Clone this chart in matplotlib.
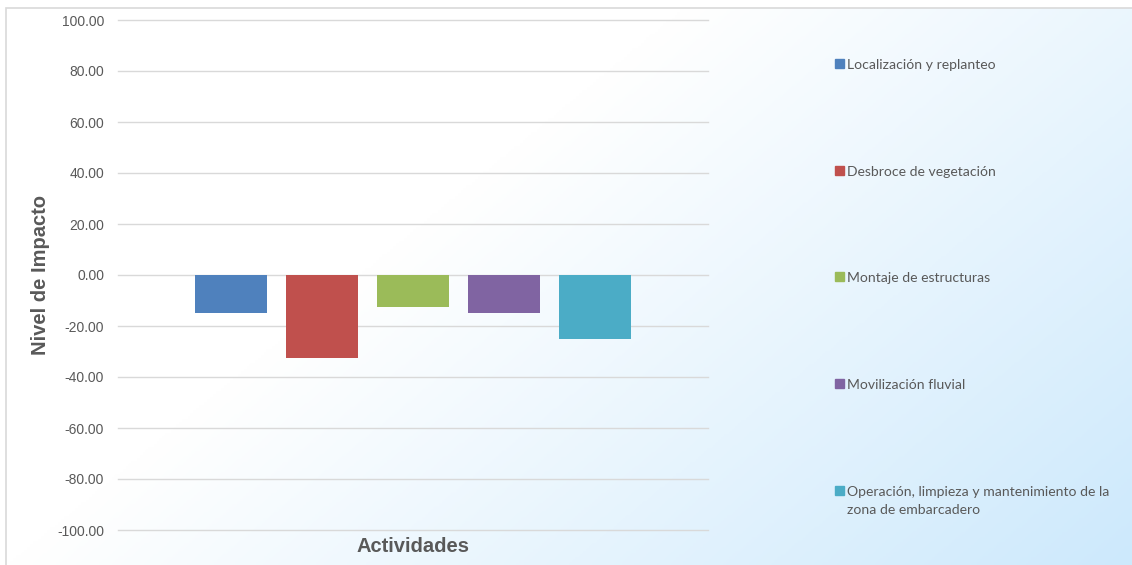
import numpy as np
import matplotlib.pyplot as plt
from matplotlib.colors import LinearSegmentedColormap
from matplotlib.patches import Rectangle

actividades = [
    "Localización y replanteo",
    "Desbroce de vegetación",
    "Montaje de estructuras",
    "Movilización fluvial",
    "Operación, limpieza y mantenimiento de la\nzona de embarcadero",
]
impacto = [-15.0, -32.7, -12.7, -15.0, -25.2]
colores = ["#4f81bd", "#c0504d", "#9bbb59", "#8064a2", "#4bacc6"]
yticks = [100, 80, 60, 40, 20, 0, -20, -40, -60, -80, -100]

W, H = 1132, 565
fig = plt.figure(figsize=(W / 100, H / 100), dpi=100)
fig.patch.set_facecolor("white")

# fondo degradado del area del grafico (blanco arriba-izquierda, celeste abajo-derecha)
bg = fig.add_axes([6 / W, 0, 1 - 6 / W, 1 - 8 / H], zorder=-10)
gx, gy = np.meshgrid(np.linspace(0, 1, 400), np.linspace(0, 1, 200))
t = np.clip((0.75 * gx + 0.45 * gy - 0.45) / 0.75, 0, 1)
cmap = LinearSegmentedColormap.from_list("fondo", ["#ffffff", "#cde9fc"])
bg.imshow(t, cmap=cmap, aspect="auto", extent=[0, 1, 1, 0], vmin=0, vmax=1)
bg.set_axis_off()
fig.patches.append(Rectangle((6 / W, -0.01), 1.1, 1 - 8 / H + 0.01,
                             transform=fig.transFigure, fill=False,
                             edgecolor="#d9d9d9", linewidth=1.2, zorder=-5))

ax = fig.add_axes([118 / W, 1 - 530 / H, 590 / W, 510 / H])
ax.patch.set_alpha(0)
x = np.arange(len(impacto))
ax.bar(x, impacto, width=0.79, color=colores, zorder=3)
ax.set_xlim(2 - 3.24, 2 + 3.24)
ax.set_ylim(-100, 100)
ax.set_yticks(yticks)
ax.set_yticklabels([f"{v:.2f}" for v in yticks], fontsize=10, color="#595959",
                   family="Liberation Sans")
ax.set_xticks([])
ax.tick_params(axis="y", length=0, pad=10)
ax.grid(axis="y", color="#d9d9d9", linewidth=1, zorder=0)
for line in ax.get_ygridlines():
    line.set_clip_on(False)
for s in ax.spines.values():
    s.set_visible(False)

ax.set_ylabel("Nivel de Impacto", fontsize=14.5, fontweight="bold", color="#595959",
              family="Liberation Sans")
ax.yaxis.set_label_coords(-68 / 590, 0.5)
fig.text(413 / W, 1 - 546 / H, "Actividades", fontsize=14.5, fontweight="bold",
         color="#595959", family="Liberation Sans", ha="center", va="center")

# leyenda a la derecha
ley_y = [64, 171, 277, 384, 491]
for nombre, col, yy in zip(actividades, colores, ley_y):
    fig.patches.append(Rectangle((835 / W, 1 - (yy + 4) / H), 9 / W, 9 / H,
                                 transform=fig.transFigure, color=col))
    fig.text(847 / W, 1 - (yy - 5) / H, nombre, fontsize=10.1, color="#595959",
             family="Lato", va="top", linespacing=1.55)

fig.savefig("out.png", dpi=100)
